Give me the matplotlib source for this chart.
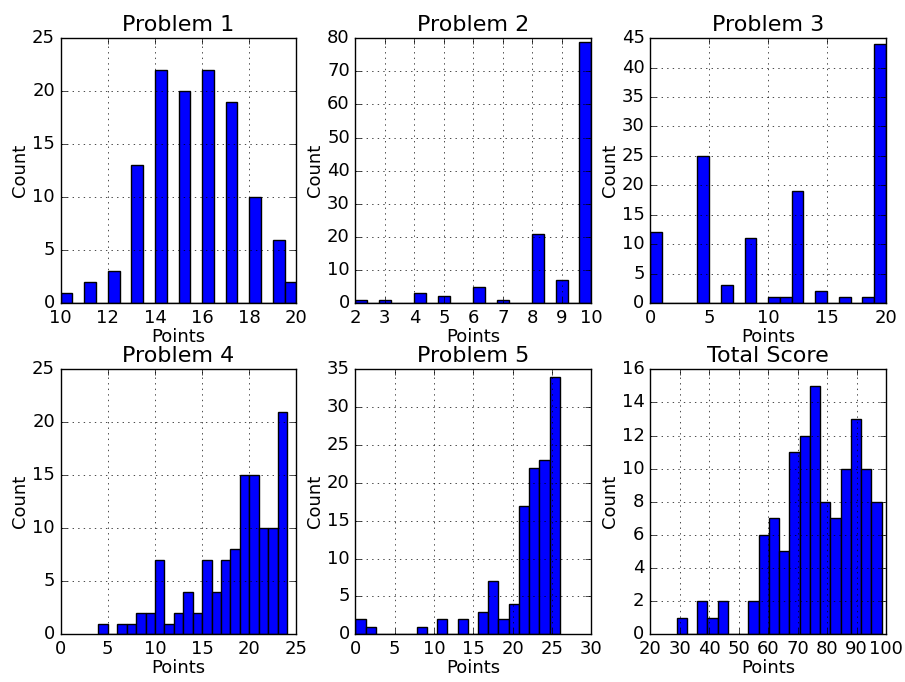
import numpy as np
from matplotlib import pyplot as plt

# histogram counts, 20 bins per panel
titles = ["Problem 1", "Problem 2", "Problem 3", "Problem 4", "Problem 5", "Total Score"]

# (min, max) of the data in each panel -> bin range
ranges = [(10, 20), (2, 10), (0, 20), (4, 24), (0, 26), (29, 98.5)]

p1_counts = [1, 0, 2, 0, 3, 0, 13, 0, 22, 0, 20, 0, 22, 0, 19, 0, 10, 0, 6, 2]
p2_counts = [1, 0, 1, 0, 0, 3, 0, 2, 0, 0, 5, 0, 1, 0, 0, 21, 0, 7, 0, 79]
p3_counts = [12, 0, 0, 0, 25, 0, 3, 0, 11, 0, 1, 1, 19, 0, 2, 0, 1, 0, 1, 44]
p4_counts = [1, 0, 1, 1, 2, 2, 7, 1, 2, 4, 2, 7, 4, 7, 8, 15, 15, 10, 10, 21]
p5_counts = [2, 1, 0, 0, 0, 0, 1, 0, 2, 0, 2, 0, 3, 7, 2, 4, 17, 22, 23, 34]
total_counts = [1, 0, 2, 1, 2, 0, 0, 2, 6, 7, 5, 11, 12, 15, 8, 7, 10, 13, 10, 8]

all_counts = [p1_counts, p2_counts, p3_counts, p4_counts, p5_counts, total_counts]

###############
#function: draw_hist
#description: draws one histogram panel from the bin counts and data range
###############
def draw_hist(ax, counts, rng, title):
    edges = np.linspace(rng[0], rng[1], len(counts) + 1)
    ax.hist(edges[:-1], bins=edges, weights=counts, color="b", edgecolor="k", linewidth=1.0)
    ax.set_title(title, fontsize=16)
    ax.set_xlabel("Points", fontsize=13, labelpad=1)
    ax.set_ylabel("Count", fontsize=13, labelpad=2)
    ax.tick_params(labelsize=13)
    ax.grid(True)


plt.style.use("classic")
plt.rcParams["figure.facecolor"] = "white"
plt.rcParams["savefig.facecolor"] = "white"

fig, axes = plt.subplots(2, 3, figsize=(9.05, 6.82), dpi=100)
fig.subplots_adjust(left=0.067, right=0.979, bottom=0.070, top=0.944, wspace=0.25, hspace=0.25)

for ax, counts, rng, title in zip(axes.flat, all_counts, ranges, titles):
    draw_hist(ax, counts, rng, title)

fig.savefig("out.png", dpi=100)
